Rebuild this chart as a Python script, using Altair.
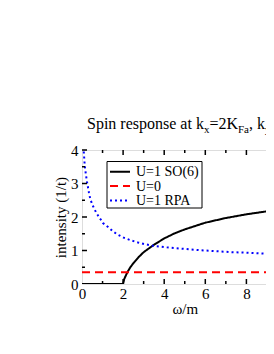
import altair as alt
import pandas as pd

# ---- data ----
series_names = ["U=1 SO(6)", "U=0", "U=1 RPA"]
series_colors = ["black", "red", "blue"]
series_dash = [[1, 0], [8, 5], [2, 3]]

so6_w = [0, 2.0, 2.05, 2.1, 2.2, 2.35, 2.5, 2.75, 3.0, 3.5, 4.0, 4.5, 5.0, 6.0, 7.0, 8.0, 9.0, 10.0]
so6_v = [0, 0, 0.14, 0.21, 0.34, 0.5, 0.62, 0.8, 0.95, 1.17, 1.36, 1.51, 1.63, 1.83, 1.97, 2.08, 2.17, 2.24]

u0_w = [0, 10]
u0_v = [0.35, 0.35]

rpa_w = [0.02, 0.08, 0.13, 0.18, 0.24, 0.34, 0.41, 0.54, 0.7, 0.86, 1.02, 1.27, 1.51, 1.75,
         2.08, 2.4, 2.73, 3.05, 3.46, 4.0, 4.92, 5.7, 6.54, 7.3, 8.16, 9.33, 10.0]
rpa_v = [4.4, 4.0, 3.56, 3.31, 3.06, 2.72, 2.52, 2.32, 2.12, 1.97, 1.82, 1.70, 1.57, 1.47,
         1.37, 1.30, 1.24, 1.19, 1.14, 1.10, 1.05, 1.01, 0.98, 0.95, 0.93, 0.89, 0.87]

x_labels = [0, 2, 4, 6, 8, 10]
y_labels = [0, 1, 2, 3, 4]
x_major = [2, 4, 6, 8, 10]
x_minor = [1, 3, 5, 7, 9]
y_major = [1, 2, 3, 4]
y_minor = [0.5, 1.5, 2.5, 3.5]

title_parts = [("Spin response at k", False), ("x", True), ("=2K", False), ("Fa", True),
               (", k", False), ("y", True), ("=2K", False), ("Fa", True)]

FONT = "Liberation Serif"
W, H = 205.5, 134

rows = []
for name, ws, vs in [(series_names[0], so6_w, so6_v), (series_names[1], u0_w, u0_v),
                     (series_names[2], rpa_w, rpa_v)]:
    for w, v in zip(ws, vs):
        rows.append({"series": name, "w": w, "v": v})
df = pd.DataFrame(rows)

xscale = alt.Scale(domain=[0, 10], nice=False, zero=False)
yscale = alt.Scale(domain=[0, 4], nice=False, zero=False)

x_axis = alt.Axis(values=x_labels, format="d", tickSize=0, domain=False, grid=False,
                  labelFlush=False, labelPadding=2, titlePadding=0,
                  labelFont=FONT, labelFontSize=15, labelColor="black",
                  titleFont=FONT, titleFontSize=15, titleFontWeight="normal",
                  titleColor="black")
y_axis = alt.Axis(values=y_labels, format="d", tickSize=0, domain=False, grid=False,
                  labelPadding=4, titlePadding=2,
                  labelFont=FONT, labelFontSize=15, labelColor="black",
                  titleFont=FONT, titleFontSize=15, titleFontWeight="normal",
                  titleColor="black")
X_TITLE = "ω/m"
Y_TITLE = "intensity (1/t)"

lines = alt.Chart(df).mark_line(clip=True, strokeWidth=2).encode(
    x=alt.X("w:Q", scale=xscale, title=X_TITLE, axis=x_axis),
    y=alt.Y("v:Q", scale=yscale, title=Y_TITLE, axis=y_axis),
    color=alt.Color("series:N", scale=alt.Scale(domain=series_names, range=series_colors), legend=None),
    strokeDash=alt.StrokeDash("series:N", scale=alt.Scale(domain=series_names, range=series_dash), legend=None),
    detail="series:N",
)

def tick_layer(vals, axis, length):
    d = pd.DataFrame({"w": vals, "v": vals})
    layers = []
    if axis == "x":
        for y0, y1 in [(H, H - length), (0, length)]:
            layers.append(alt.Chart(d).mark_rule(color="black", strokeWidth=1.5).encode(
                x=alt.X("w:Q", scale=xscale, title=X_TITLE, axis=x_axis),
                y=alt.value(y0), y2=alt.value(y1)))
    else:
        layers.append(alt.Chart(d).mark_rule(color="black", strokeWidth=1.5).encode(
            y=alt.Y("v:Q", scale=yscale, title=Y_TITLE, axis=y_axis),
            x=alt.value(0), x2=alt.value(length)))
    return layers

ticks = (tick_layer(x_major, "x", 5) + tick_layer(x_minor, "x", 3) +
         tick_layer(y_major, "y", 5) + tick_layer(y_minor, "y", 3))

# ---- legend (manual box) ----
one = pd.DataFrame({"a": [0]})
leg_x0, leg_y0, leg_x1, leg_y1 = 25, 11.5, 120, 58
legend_layers = [alt.Chart(one).mark_rect(fill="white", stroke="black", strokeWidth=1).encode(
    x=alt.value(leg_x0), x2=alt.value(leg_x1), y=alt.value(leg_y0), y2=alt.value(leg_y1))]
for i, (name, col, dash) in enumerate(zip(series_names, series_colors, series_dash)):
    yy = 21.7 + i * 14.4
    legend_layers.append(alt.Chart(one).mark_rule(color=col, strokeDash=dash, strokeWidth=2).encode(
        x=alt.value(28), x2=alt.value(48), y=alt.value(yy)))
    legend_layers.append(alt.Chart(one).mark_text(text=name, font=FONT, fontSize=14, color="black",
                                                  align="left", baseline="middle").encode(
        x=alt.value(54), y=alt.value(yy + 0.5)))

# ---- title with subscripts ----
tw = {"S": 556, "p": 500, "i": 278, "n": 500, " ": 250, "r": 333, "e": 444, "s": 389, "o": 500,
      "a": 444, "t": 278, "k": 500, "x": 500, "=": 564, "2": 500, "K": 722, "F": 556, ",": 250,
      "y": 500}
title_layers = []
cx = 5.0
for txt, sub in title_parts:
    fs = 11 if sub else 16
    title_layers.append(alt.Chart(one).mark_text(text=txt, font=FONT, fontSize=fs, color="black",
                                                 align="left", baseline="alphabetic").encode(
        x=alt.value(cx), y=alt.value(-21.5 + (4 if sub else 0))))
    cx += sum(tw.get(c, 500) for c in txt) / 1000.0 * fs

chart = alt.layer(lines, *ticks, *legend_layers, *title_layers).properties(
    width=W, height=H,
    autosize=alt.AutoSizeParams(type="none"),
    padding={"left": 74, "top": 142, "right": -21.5, "bottom": 42},
).configure_view(stroke="black", strokeWidth=2).configure(background="white")

chart.save("out.html", embed_options={"renderer": "svg", "actions": False})
